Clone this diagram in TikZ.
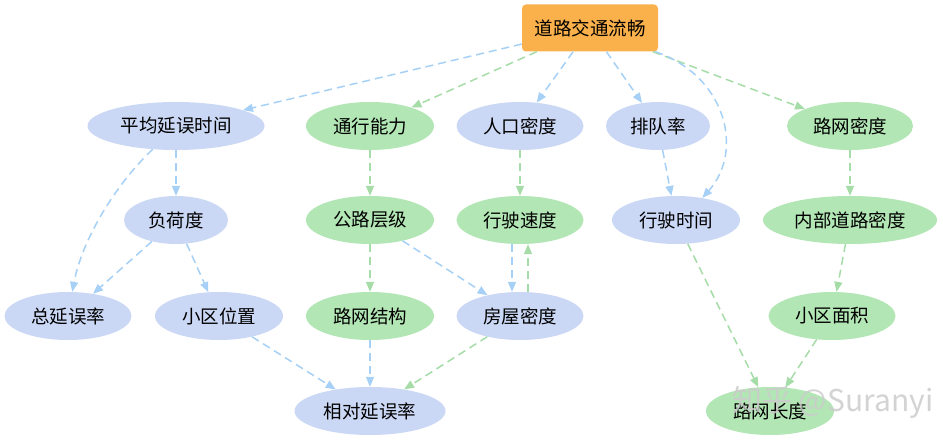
\documentclass[tikz,border=0pt]{standalone}
\usepackage{fontspec}
\newfontfamily\cjk{Noto Sans CJK SC}
\usetikzlibrary{shapes.geometric,arrows.meta}
\definecolor{bfill}{RGB}{203,216,245}
\definecolor{gfill}{RGB}{178,230,180}
\definecolor{bline}{RGB}{166,208,246}
\definecolor{gline}{RGB}{166,220,168}
\definecolor{ofill}{RGB}{250,176,75}
\tikzset{
  bnode/.style={ellipse,fill=bfill,inner sep=0pt,minimum height=48pt,font=\cjk\fontsize{18.5}{21}\selectfont},
  gnode/.style={ellipse,fill=gfill,inner sep=0pt,minimum height=48pt,font=\cjk\fontsize{18.5}{21}\selectfont},
  barr/.style={draw=bline,line width=1.5pt,dash pattern=on 8pt off 5pt,-{Triangle[length=10pt,width=8pt]}},
  garr/.style={draw=gline,line width=1.5pt,dash pattern=on 8pt off 5pt,-{Triangle[length=10pt,width=8pt]}},
}
\begin{document}
\begin{tikzpicture}[x=1pt,y=-1pt]
\useasboundingbox (0,0) rectangle (943,443);
\fill[white] (0,0) rectangle (943,443);
\node[fill=ofill,rounded corners=4pt,minimum width=136pt,minimum height=47pt,inner sep=0pt,font=\cjk\fontsize{18.5}{21}\selectfont] (top) at (590,28) {道路交通流畅};
% row 1
\node[bnode,minimum width=177pt] (pj) at (176,126) {平均延误时间};
\node[gnode,minimum width=128pt] (tx) at (370,126) {通行能力};
\node[bnode,minimum width=127pt] (rk) at (520,126) {人口密度};
\node[bnode,minimum width=104pt] (pd) at (658,126) {排队率};
\node[gnode,minimum width=126pt] (lwm) at (850,126) {路网密度};
% row 2
\node[bnode,minimum width=104pt] (fh) at (176,220) {负荷度};
\node[gnode,minimum width=128pt] (gl) at (370,220) {公路层级};
\node[gnode,minimum width=127pt] (xsd) at (520,220) {行驶速度};
\node[bnode,minimum width=128pt] (xs) at (676,220) {行驶时间};
\node[gnode,minimum width=174pt] (nb) at (850,220) {内部道路密度};
% row 3
\node[bnode,minimum width=127pt] (zy) at (68,316) {总延误率};
\node[bnode,minimum width=128pt] (xq) at (219,316) {小区位置};
\node[gnode,minimum width=128pt] (jg) at (370,316) {路网结构};
\node[bnode,minimum width=127pt] (fw) at (520,316) {房屋密度};
\node[gnode,minimum width=127pt] (mj) at (832,316) {小区面积};
% row 4
\node[bnode,minimum width=151pt] (xd) at (370,411) {相对延误率};
\node[gnode,minimum width=128pt] (cd) at (770,411) {路网长度};
% edges from top
\draw[barr] (top) -- (pj);
\draw[garr] (top) -- (tx);
\draw[barr] (top) -- (rk);
\draw[barr] (top) -- (pd);
\draw[garr] (top) -- (lwm);
\draw[barr] (top.-20) .. controls (725,75) and (745,150) .. (xs.40);
% others
\draw[barr] (pj) -- (fh);
\draw[barr] (pj.225) .. controls (115,185) and (82,240) .. (zy.80);
\draw[barr] (fh) -- (zy);
\draw[barr] (fh) -- (xq);
\draw[garr] (tx) -- (gl);
\draw[garr] (gl) -- (jg);
\draw[barr] (gl) -- (fw);
\draw[garr] (rk) -- (xsd);
\draw[barr] ([xshift=-8pt]xsd.south) -- ([xshift=-8pt]fw.north);
\draw[garr] ([xshift=8pt]fw.north) -- ([xshift=8pt]xsd.south);
\draw[barr] (pd) -- (xs);
\draw[garr] (lwm) -- (nb);
\draw[garr] (nb) -- (mj);
\draw[barr] (xq) -- (xd);
\draw[barr] (jg) -- (xd);
\draw[garr] (fw) -- (xd);
\draw[garr] (xs) -- (cd);
\draw[garr] (mj) -- (cd);
% watermark
\node[text=gray!40,opacity=0.85,anchor=west,font=\cjk\fontsize{30}{32}\selectfont,inner sep=0pt] (wm) at (732,402) {知乎 @Suranyi};
\end{tikzpicture}
\end{document}
